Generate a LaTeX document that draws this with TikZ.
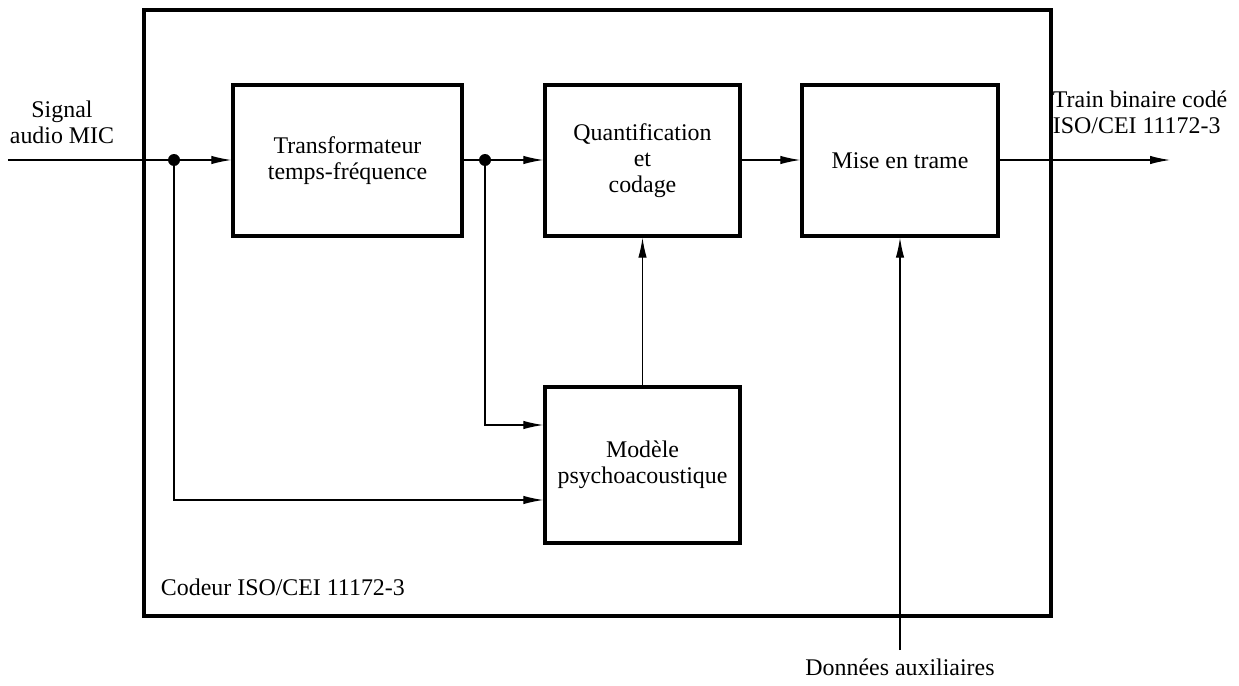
\documentclass[tikz,border=0pt]{standalone}
\usepackage{fontspec}
\setmainfont{Liberation Serif}
\usepackage{tikz}
\usetikzlibrary{arrows.meta, positioning}

\begin{document}
\begin{tikzpicture}[
		box/.style={
			draw,
			line width=2.4pt,
			align=center,
			minimum width=4.875cm,
			minimum height=3.775cm,
			font=\fontsize{17}{18.5}\selectfont
		},
		frame/.style={
			draw,
			line width=2.4pt,
			minimum width=22.675cm,
			minimum height=15.15cm
		},
		label/.style={
			align=center,
			font=\fontsize{17}{18.5}\selectfont
		},
		dot/.style={
			circle,
			fill,
			inner sep=0pt,
			minimum size=0.3cm
		},
		arrow/.style={
			-{Latex[length=5mm,width=2.1mm]},
			line width=0.8pt
		},
		line/.style={
			line width=0.8pt
		}
		]
		
		\useasboundingbox (0,0) rectangle (30.975,-17.15);
		
		% Cadre du codeur
		\node[frame] (codeur) at (14.9375,-7.825) {};
		\node[label, anchor=west] (codeurlbl) at (3.9,-14.675) {Codeur ISO/CEI 11172-3};
		
		% Blocs principaux
		\node[box, minimum width=5.725cm] (tf) at (8.6875,-4.0125) {Transformateur\\temps-fréquence};
		\node[box] (quant) at (16.0625,-4.0125) {Quantification\\et\\codage};
		\node[box, minimum width=4.9cm] (mise) at (22.5,-4.0125) {Mise en trame};
		\node[box, minimum height=3.9cm] (modele) at (16.0625,-11.625) {Modèle\\psychoacoustique};
		
		% Entrée et sortie
		\coordinate (in) at (0.2,-4);
		\coordinate (out) at (29.25,-4);
		\coordinate (aux) at (22.5,-16.25);
		\node[label] (inlbl) at (1.55,-3.05) {Signal\\audio MIC};
		\node[label, anchor=west, align=left] (outlbl) at (26.2,-2.8) {Train binaire codé\\ISO/CEI 11172-3};
		\node[label, below=0.1cm of aux] (auxlbl) {Données auxiliaires};
		
		% Points de dérivation
		\node[dot] (j1) at (4.35,-4) {};
		\node[dot] (j2) at (12.125,-4) {};
		
		% Ligne principale
		\draw[line] (in) -- (j1);
		\draw[arrow] (j1) -- (j1 -| tf.west);
		\draw[line] (j2 -| tf.east) -- (j2);
		\draw[arrow] (j2) -- (j2 -| quant.west);
		\draw[arrow] (j2 -| quant.east) -- (j2 -| mise.west);
		\draw[arrow] (j2 -| mise.east) -- (out);
		
		% Dérivations vers le modèle
		\draw[arrow] (j2) |- ([yshift=1cm]modele.west);
		\draw[arrow] (j1) |- ([yshift=-0.875cm]modele.west);
		\draw[arrow] (modele) -- (quant);
		
		% Données auxiliaires
		\draw[arrow] (aux) -- (mise);
		
	\end{tikzpicture}
\end{document}
